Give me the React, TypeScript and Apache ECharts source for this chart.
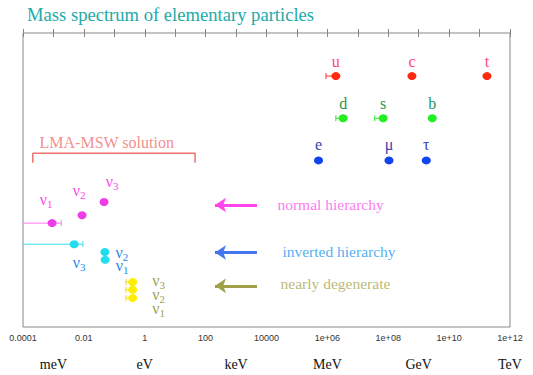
import React, { useEffect, useRef } from "react";
import * as echarts from "echarts";

const TITLE = "Mass spectrum of elementary particles";
const AXIS_MIN = 1e-4;
const AXIS_MAX = 1e12;
const UNIT_NAMES = ["meV", "eV", "keV", "MeV", "GeV", "TeV"];
const UNIT_EXPONENTS = [-3, 0, 3, 6, 9, 12];

// charged fermions, masses in eV
const upNames = ["u", "c", "t"];
const upMasses = [1.9e6, 6.0e8, 1.75e11];
const upErrLow: (number | null)[] = [9.0e5, null, null];
const downNames = ["d", "s", "b"];
const downMasses = [3.3e6, 6.8e7, 2.8e9];
const downErrLow: (number | null)[] = [1.9e6, 3.6e7, null];
const leptonNames = ["e", "μ", "τ"];
const leptonMasses = [5.11e5, 1.057e8, 1.777e9];

// vertical rows on a 0..30 band (0 = top)
const upRow = 4.4;
const downRow = 8.7;
const leptonRow = 13.0;

// neutrinos
const normalNames = ["ν1", "ν2", "ν3"];
const normalMasses = [9.0e-4, 8.7e-3, 4.6e-2];
const normalRows = [19.4, 18.6, 17.25];
const normalErrLow: (number | null)[] = [1e-5, null, null];
const normalErrHigh: (number | null)[] = [1.8e-3, null, null];

const invertedNames = ["ν3", "ν2", "ν1"];
const invertedMasses = [4.8e-3, 4.9e-2, 5.0e-2];
const invertedRows = [21.55, 22.35, 23.15];
const invertedErrLow: (number | null)[] = [1e-5, null, null];
const invertedErrHigh: (number | null)[] = [9.3e-3, null, null];

const degenerateNames = ["ν3", "ν2", "ν1"];
const degenerateMasses = [0.4, 0.4, 0.4];
const degenerateRows = [25.4, 26.2, 27.05];
const degenerateErrLow: (number | null)[] = [0.24, 0.24, 0.24];
const degenerateErrHigh: (number | null)[] = [null, null, null];

// annotations
const hierarchyTexts = ["normal hierarchy", "inverted hierarchy", "nearly degenerate"];
const hierarchyTextX = [2.2e4, 3.2e4, 2.8e4];
const hierarchyTextRows = [17.45, 22.25, 25.6];
const arrowTail = 4.86e3;
const arrowHead = 203;
const arrowRows = [17.55, 22.4, 25.8];

const lmaText = "LMA-MSW solution";
const lmaRange = [2.1e-4, 45];
const lmaRowTop = 12.26;
const lmaRowBottom = 13.23;
const lmaTextX = 3.36e-4;
const lmaTextRow = 11.22;

// ---- styles / layout ----
const SERIF = "'Liberation Serif', 'DejaVu Serif', serif";
const SANS = "'Liberation Sans', Arial, sans-serif";
const GRID = { left: 23, right: 23, top: 33, bottom: 48 };
const hierarchyColors = ["#ff55ee", "#2299ee", "#a8a850"];
const arrowColors = ["#ff44ee", "#4477ee", "#a0a048"];

const quarkOffsets = [0, -14];
const leptonOffset = [0, -15];
const normalOffsets = [[-6, -23], [-3, -24], [8, -20]];
const invertedOffsets = [[5, 19], [17, 1], [17, 7]];
const degenerateOffsets = [[26, 0], [26, 6], [26, 11]];

function fmtTick(v: number): string {
  const e = Math.round(Math.log10(v));
  if (e % 2 !== 0) return "";
  if (e < 5) return e < 0 ? v.toFixed(-e) : String(Math.round(v));
  return "1e+" + String(e).padStart(2, "0");
}

function fmtUnit(v: number): string {
  const e = Math.round(Math.log10(v));
  const i = UNIT_EXPONENTS.indexOf(e);
  return i >= 0 ? UNIT_NAMES[i] : "";
}

function labelFormatter(p: any): string {
  const n: string = p.name;
  if (n.startsWith("ν")) return `{n|ν}{s|${n.slice(1)}}`;
  return `{n|${n}}`;
}

function richFor(color: string) {
  return {
    n: { fontFamily: SERIF, fontSize: 16, color, lineHeight: 18, verticalAlign: "top" },
    s: { fontFamily: SERIF, fontSize: 11, color, lineHeight: 4, verticalAlign: "bottom" },
  };
}

function pointSeries(
  names: string[],
  masses: number[],
  rows: number[],
  offsets: number[][],
  dotColor: string,
  labelColor: string
) {
  return {
    type: "scatter",
    xAxisIndex: 0,
    yAxisIndex: 0,
    symbol: "circle",
    symbolSize: [9, 8],
    itemStyle: { color: dotColor, opacity: 1 },
    label: {
      show: true,
      position: "inside",
      formatter: labelFormatter,
      rich: richFor(labelColor),
    },
    data: names.map((name, i) => ({
      name,
      value: [masses[i], rows[i]],
      label: { offset: offsets[i] },
    })),
    z: 5,
  };
}

function errorSeries(
  masses: number[],
  rows: number[],
  lows: (number | null)[],
  highs: (number | null)[],
  color: string
) {
  const data: number[][] = [];
  masses.forEach((m, i) => {
    if (lows[i] == null && highs[i] == null) return;
    data.push([
      lows[i] ?? m,
      highs[i] ?? m,
      rows[i],
      lows[i] != null ? 1 : 0,
      highs[i] != null ? 1 : 0,
    ]);
  });
  return {
    type: "custom",
    xAxisIndex: 0,
    yAxisIndex: 0,
    encode: { x: [0, 1], y: 2 },
    z: 3,
    data,
    renderItem: (params: any, api: any) => {
      const row = api.value(2);
      const lo = api.coord([api.value(0), row]);
      const hi = api.coord([api.value(1), row]);
      const cs = params.coordSys;
      const left = Math.max(lo[0], cs.x);
      const style = { stroke: color, lineWidth: 1 };
      const children: any[] = [
        { type: "line", shape: { x1: left, y1: lo[1], x2: hi[0], y2: hi[1] }, style },
      ];
      if (api.value(3) === 1 && lo[0] >= cs.x) {
        children.push({ type: "line", shape: { x1: lo[0], y1: lo[1] - 3, x2: lo[0], y2: lo[1] + 3 }, style });
      }
      if (api.value(4) === 1) {
        children.push({ type: "line", shape: { x1: hi[0], y1: hi[1] - 3, x2: hi[0], y2: hi[1] + 3 }, style });
      }
      return { type: "group", children };
    },
  };
}

function buildOption() {
  const baseLog = {
    type: "log",
    logBase: 10,
    min: AXIS_MIN,
    max: AXIS_MAX,
    interval: 1,
    splitLine: { show: false },
    axisLine: { show: false },
  };
  return {
    animation: false,
    backgroundColor: "#ffffff",
    title: {
      text: TITLE,
      left: 27,
      top: 5,
      padding: 0,
      textStyle: { fontFamily: SERIF, fontSize: 18.6, fontWeight: "normal", color: "#22aaaa" },
    },
    grid: { ...GRID, show: true, borderColor: "#888888", borderWidth: 1, backgroundColor: "transparent" },
    xAxis: [
      {
        ...baseLog,
        position: "bottom",
        axisTick: { show: true, inside: true, length: 4, lineStyle: { color: "#888888" } },
        axisLabel: {
          show: true,
          interval: 0,
          formatter: fmtTick,
          fontFamily: SANS,
          fontSize: 9,
          color: "#333333",
          margin: 6,
          showMinLabel: true,
          showMaxLabel: true,
        },
      },
      {
        ...baseLog,
        position: "top",
        axisTick: { show: true, inside: true, length: 4, lineStyle: { color: "#888888" } },
        axisLabel: { show: false },
      },
      {
        ...baseLog,
        position: "bottom",
        offset: 24,
        axisTick: { show: false },
        axisLabel: {
          show: true,
          interval: 0,
          formatter: fmtUnit,
          fontFamily: SERIF,
          fontSize: 14,
          color: "#111111",
          margin: 6,
          showMinLabel: true,
          showMaxLabel: true,
        },
      },
    ],
    yAxis: { type: "value", min: 0, max: 30, inverse: true, show: false },
    series: [
      errorSeries(upMasses, upNames.map(() => upRow), upErrLow, upNames.map(() => null), "#ff3322"),
      errorSeries(downMasses, downNames.map(() => downRow), downErrLow, downNames.map(() => null), "#22ee22"),
      errorSeries(normalMasses, normalRows, normalErrLow, normalErrHigh, "#ff77ee"),
      errorSeries(invertedMasses, invertedRows, invertedErrLow, invertedErrHigh, "#33ddee"),
      errorSeries(degenerateMasses, degenerateRows, degenerateErrLow, degenerateErrHigh, "#eedd00"),
      pointSeries(upNames, upMasses, upNames.map(() => upRow), upNames.map(() => quarkOffsets), "#ff2a10", "#ff4488"),
      pointSeries(downNames, downMasses, downNames.map(() => downRow), downNames.map(() => quarkOffsets), "#22ee22", "#229955"),
      pointSeries(leptonNames, leptonMasses, leptonNames.map(() => leptonRow), leptonNames.map(() => leptonOffset), "#1144ee", "#3344aa"),
      pointSeries(normalNames, normalMasses, normalRows, normalOffsets, "#f03ce8", "#ff44ee"),
      pointSeries(invertedNames, invertedMasses, invertedRows, invertedOffsets, "#22ddee", "#2288ee"),
      pointSeries(degenerateNames, degenerateMasses, degenerateRows, degenerateOffsets, "#ffee00", "#a0a050"),
      {
        type: "line",
        xAxisIndex: 0,
        yAxisIndex: 0,
        symbol: "none",
        lineStyle: { color: "#f07070", width: 1.5 },
        itemStyle: { color: "#f07070" },
        data: [
          [lmaRange[0], lmaRowBottom],
          [lmaRange[0], lmaRowTop],
          [lmaRange[1], lmaRowTop],
          [lmaRange[1], lmaRowBottom],
        ],
        markLine: {
          silent: true,
          symbol: ["arrow", "none"],
          symbolSize: 11,
          label: { show: false },
          data: arrowRows.map((r, i) => [
            {
              coord: [arrowHead, r],
              lineStyle: { color: arrowColors[i], width: 3, type: "solid" },
              itemStyle: { color: arrowColors[i] },
            },
            { coord: [arrowTail, r] },
          ]),
        },
        z: 2,
      },
      {
        type: "scatter",
        xAxisIndex: 0,
        yAxisIndex: 0,
        symbolSize: 1,
        itemStyle: { color: "rgba(255,255,255,0)" },
        data: [
          ...hierarchyTexts.map((t, i) => ({
            name: t,
            value: [hierarchyTextX[i], hierarchyTextRows[i]],
            label: { color: hierarchyColors[i], fontSize: 15.5 },
          })),
          { name: lmaText, value: [lmaTextX, lmaTextRow], label: { color: "#f07070", fontSize: 16 } },
        ],
        label: {
          show: true,
          position: "right",
          distance: 0,
          formatter: (p: any) => p.name,
          fontFamily: SERIF,
          fontSize: 15,
        },
        z: 4,
      },
    ],
  };
}

export default function App() {
  const ref = useRef<HTMLDivElement>(null);
  useEffect(() => {
    if (!ref.current) return;
    const chart = echarts.init(ref.current, null, { renderer: "svg" });
    chart.setOption(buildOption() as any);
    return () => chart.dispose();
  }, []);
  return (
    <div
      ref={ref}
      style={{ position: "fixed", left: 0, top: 0, width: 533, height: 375, background: "#fff" }}
    />
  );
}
